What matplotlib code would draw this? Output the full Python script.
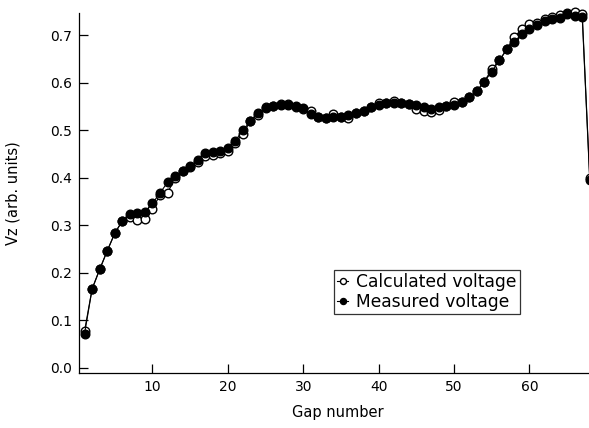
import matplotlib
matplotlib.use("Agg")
import matplotlib.pyplot as plt
import numpy as np

# gap numbers and voltages
gap = np.arange(1, 69)

calculated = [0.078, 0.166, 0.207, 0.246, 0.283, 0.309, 0.318, 0.311, 0.314, 0.335,
              0.363, 0.368, 0.399, 0.415, 0.423, 0.434, 0.445, 0.447, 0.451, 0.457,
              0.474, 0.493, 0.519, 0.533, 0.549, 0.551, 0.555, 0.555, 0.549, 0.545,
              0.541, 0.527, 0.525, 0.535, 0.528, 0.526, 0.537, 0.541, 0.548, 0.558,
              0.557, 0.561, 0.558, 0.556, 0.545, 0.540, 0.538, 0.542, 0.551, 0.560,
              0.560, 0.569, 0.582, 0.602, 0.628, 0.647, 0.670, 0.697, 0.712, 0.724,
              0.726, 0.735, 0.738, 0.742, 0.747, 0.749, 0.745, 0.399]

measured = [0.072, 0.166, 0.207, 0.246, 0.283, 0.309, 0.324, 0.326, 0.328, 0.346,
            0.368, 0.390, 0.403, 0.415, 0.424, 0.437, 0.452, 0.454, 0.457, 0.463,
            0.478, 0.500, 0.519, 0.537, 0.546, 0.550, 0.552, 0.552, 0.550, 0.546,
            0.535, 0.527, 0.525, 0.527, 0.528, 0.532, 0.537, 0.541, 0.548, 0.554,
            0.557, 0.557, 0.558, 0.556, 0.552, 0.549, 0.545, 0.549, 0.551, 0.554,
            0.560, 0.569, 0.582, 0.602, 0.623, 0.647, 0.670, 0.686, 0.703, 0.712,
            0.721, 0.729, 0.733, 0.736, 0.745, 0.740, 0.739, 0.395]

plt.rcParams['font.family'] = ['DejaVu Sans']

fig = plt.figure(figsize=(5.89, 4.28), dpi=100)
ax = fig.add_axes([0.134, 0.129, 0.866, 0.841])

ax.plot(gap, calculated, '-o', color='black', lw=0.8, ms=6.2,
        mfc='white', mec='black', mew=1.0, clip_on=False, label='Calculated voltage')
ax.plot(gap, measured, '-o', color='black', lw=0.8, ms=6.2,
        mfc='black', mec='black', clip_on=False, label='Measured voltage')

ax.set_xlim(0.25, 67.9)
ax.set_ylim(-0.0105, 0.747)
ax.set_xticks([10, 20, 30, 40, 50, 60])
ax.set_yticks([0.0, 0.1, 0.2, 0.3, 0.4, 0.5, 0.6, 0.7])
ax.tick_params(direction='in', length=6.5, width=0.9, labelsize=10, pad=5)

for s in ['top', 'right']:
    ax.spines[s].set_visible(False)
for s in ['left', 'bottom']:
    ax.spines[s].set_linewidth(0.9)

ax.set_xlabel('Gap number', fontsize=10.5)
ax.set_ylabel('Vz (arb. units)', fontsize=10.5)
ax.xaxis.set_label_coords(0.507, -0.09)
ax.yaxis.set_label_coords(-0.115, 0.5)

leg = ax.legend(loc='lower left', bbox_to_anchor=(0.50, 0.163), fontsize=12.3,
                frameon=True, fancybox=False, edgecolor='black', handlelength=0.6,
                handletextpad=0.5, borderpad=0.2, labelspacing=0.1, markerscale=0.7,
                borderaxespad=0)
leg.get_frame().set_linewidth(0.9)

fig.savefig('out.png', dpi=100)
